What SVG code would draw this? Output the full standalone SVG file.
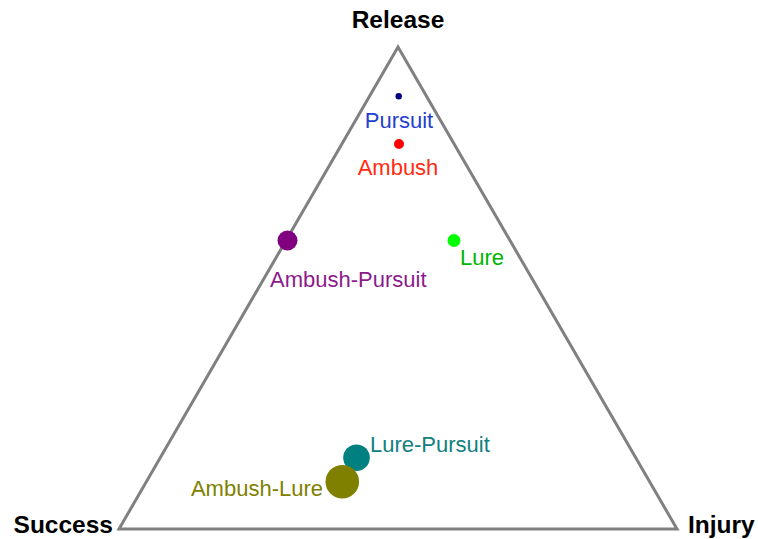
<svg xmlns="http://www.w3.org/2000/svg" width="758" height="539" viewBox="0 0 758 539">
  <style>
    .axis { font-family: "Liberation Sans", Arial, sans-serif; font-size: 24.5px; font-weight: bold; fill: #000; }
    .lbl { font-family: "Liberation Sans", Arial, sans-serif; font-size: 22px; }
    .frame { fill: none; stroke: #808080; stroke-width: 3; stroke-linejoin: miter; }
  </style>
  <rect width="758" height="539" fill="#fff"/>

  <!-- ternary frame -->
  <g id="frame">
    <polygon class="frame" points="398,47 119,529 677,529"/>
  </g>

  <!-- corner titles -->
  <g id="corner-release"><text class="axis" x="398" y="28" text-anchor="middle">Release</text></g>
  <g id="corner-success"><text class="axis" x="113" y="533" text-anchor="end">Success</text></g>
  <g id="corner-injury"><text class="axis" x="688" y="533">Injury</text></g>

  <!-- data points -->
  <g id="pursuit">
    <circle cx="398.7" cy="96.3" r="3.2" fill="#000080"/>
    <text class="lbl" x="399" y="128" text-anchor="middle" fill="#1f3fd0">Pursuit</text>
  </g>
  <g id="ambush">
    <circle cx="399" cy="144" r="5" fill="#ff0000"/>
    <text class="lbl" x="398" y="175" text-anchor="middle" fill="#ff2a10">Ambush</text>
  </g>
  <g id="ambush-pursuit">
    <circle cx="287.5" cy="240.5" r="10" fill="#800080"/>
    <text class="lbl" x="270" y="287" fill="#8b1a8b">Ambush-Pursuit</text>
  </g>
  <g id="lure">
    <circle cx="454" cy="240.5" r="6.5" fill="#00ff00"/>
    <text class="lbl" x="460" y="265" fill="#00b400">Lure</text>
  </g>
  <g id="lure-pursuit">
    <circle cx="356.5" cy="457.7" r="13.3" fill="#008080"/>
    <text class="lbl" x="370" y="452" fill="#108080">Lure-Pursuit</text>
  </g>
  <g id="ambush-lure">
    <circle cx="342.3" cy="481.7" r="16.8" fill="#808000"/>
    <text class="lbl" x="323" y="496" text-anchor="end" fill="#808000">Ambush-Lure</text>
  </g>

  <g id="connectors"/>
</svg>
